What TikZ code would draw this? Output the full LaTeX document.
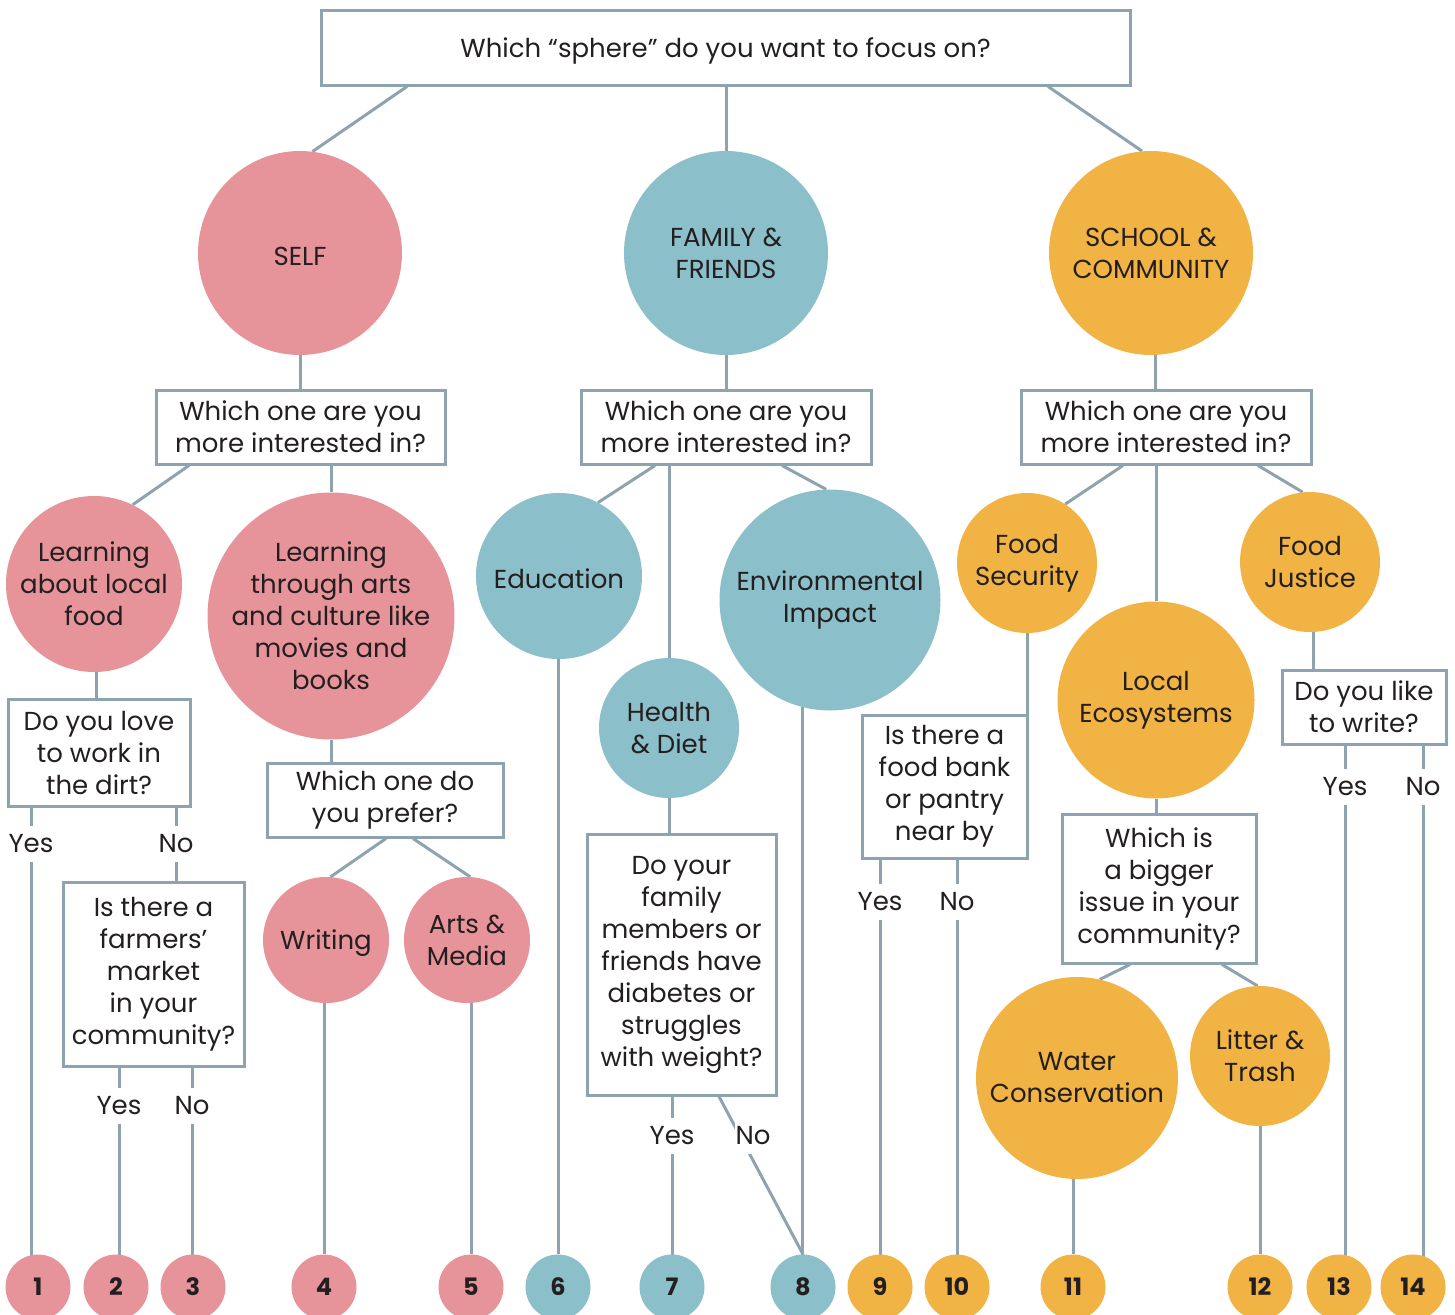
\documentclass[tikz,border=0pt]{standalone}
\usepackage{fontspec}
\setmainfont{Poppins}
\usetikzlibrary{calc,backgrounds}
\definecolor{pinkc}{HTML}{E7939A}
\definecolor{tealc}{HTML}{8BBFC9}
\definecolor{orangec}{HTML}{F1B343}
\definecolor{linec}{HTML}{8DA3B0}
\definecolor{txt}{HTML}{231F20}
\newcommand{\dnstrut}{\rule{0pt}{25pt}}
\begin{document}
\begin{tikzpicture}[x=1pt,y=-1pt,
  conn/.style={draw=linec, line width=3pt},
  qbox/.style={draw=linec, line width=3pt, fill=white, inner sep=0pt, align=center, text=txt, font=\fontsize{26}{32}\selectfont, execute at begin node=\dnstrut},
  sphere/.style={circle, fill=#1, inner sep=0pt, align=center, text=txt, font=\fontsize{26}{32}\selectfont, execute at begin node=\dnstrut},
  endc/.style={circle, fill=#1, minimum size=65pt, inner sep=0pt, text=txt, font=\fontsize{24}{24}\selectfont\bfseries},
  yn/.style={fill=white, inner xsep=1pt, inner ysep=9pt, text=txt, font=\fontsize{26}{26}\selectfont}
]
\useasboundingbox (0,0) rectangle (1455,1314);
\clip (0,0) rectangle (1455,1314);

% top
\node[qbox, minimum width=809pt, minimum height=74pt] (top) at (725.5,48) {Which “sphere” do you want to focus on?};
\node[sphere=pinkc, minimum size=204pt] (self) at (300,253) {SELF};
\node[sphere=tealc, minimum size=204pt] (fam) at (726,253) {FAMILY \&\\FRIENDS};
\node[sphere=orangec, minimum size=204pt] (school) at (1151,253) {SCHOOL \&\\COMMUNITY};

% level boxes
\node[qbox, minimum width=289pt, minimum height=74pt] (b1) at (300.5,427) {Which one are you\\more interested in?};
\node[qbox, minimum width=290pt, minimum height=74pt] (b2) at (726,427) {Which one are you\\more interested in?};
\node[qbox, minimum width=290pt, minimum height=74pt] (b3) at (1166,427) {Which one are you\\more interested in?};

% self branch
\node[sphere=pinkc, minimum size=176pt] (llf) at (94,584) {Learning\\about local\\food};
\node[sphere=pinkc, minimum size=242pt] (arts) at (331,616) {Learning\\through arts\\and culture like\\movies and\\books};
\node[qbox, minimum width=182pt, minimum height=107pt] (dirt) at (99,752.5) {Do you love\\to work in\\the dirt?};
\node[qbox, minimum width=181pt, minimum height=184pt] (farmers) at (153.5,974) {Is there a\\farmers’\\market\\in your\\community?};
\node[qbox, minimum width=236pt, minimum height=74pt] (prefer) at (385,800) {Which one do\\you prefer?};
\node[sphere=pinkc, minimum size=126pt] (writing) at (326,940) {Writing};
\node[sphere=pinkc, minimum size=126pt] (am) at (467,940) {Arts \&\\Media};

% family branch
\node[sphere=tealc, minimum size=166pt] (edu) at (559,576) {Education};
\node[sphere=tealc, minimum size=140pt] (health) at (669,728) {Health\\\& Diet};
\node[sphere=tealc, minimum size=221pt] (env) at (830,600) {Environmental\\Impact};
\node[qbox, minimum width=189pt, minimum height=261pt] (diab) at (681.5,964.5) {Do your\\family\\members or\\friends have\\diabetes or\\struggles\\with weight?};

% school branch
\node[sphere=orangec, minimum size=140pt] (fs) at (1027,563) {Food\\Security};
\node[sphere=orangec, minimum size=197pt] (le) at (1156,700) {Local\\Ecosystems};
\node[sphere=orangec, minimum size=140pt] (fj) at (1310,562) {Food\\Justice};
\node[qbox, minimum width=165pt, minimum height=143pt] (foodbank) at (944.5,786.5) {Is there a\\food bank\\or pantry\\near by};
\node[qbox, minimum width=194pt, minimum height=149pt] (bigger) at (1159,888.5) {Which is\\a bigger\\issue in your\\community?};
\node[sphere=orangec, minimum size=202pt] (water) at (1077,1078) {Water\\Conservation};
\node[sphere=orangec, minimum size=140pt] (litter) at (1260,1056) {Litter \&\\Trash};
\node[qbox, minimum width=164pt, minimum height=74pt] (write) at (1364,707) {Do you like\\to write?};

% end circles
\node[endc=pinkc] (c1) at (38,1287) {1};
\node[endc=pinkc] (c2) at (116,1287) {2};
\node[endc=pinkc] (c3) at (193,1287) {3};
\node[endc=pinkc] (c4) at (324,1287) {4};
\node[endc=pinkc] (c5) at (471,1287) {5};
\node[endc=tealc] (c6) at (558,1287) {6};
\node[endc=tealc] (c7) at (672,1287) {7};
\node[endc=tealc] (c8) at (803,1287) {8};
\node[endc=orangec] (c9) at (880,1287) {9};
\node[endc=orangec] (c10) at (957,1287) {10};
\node[endc=orangec] (c11) at (1073,1287) {11};
\node[endc=orangec] (c12) at (1260,1287) {12};
\node[endc=orangec] (c13) at (1339,1287) {13};
\node[endc=orangec] (c14) at (1413,1287) {14};

% yes / no labels
\node[yn] (yes1) at (31,844) {Yes};
\node[yn] (no1) at (176,844) {No};
\node[yn] (yes2) at (119,1106) {Yes};
\node[yn] (no2) at (192,1106) {No};
\node[yn] (yes3) at (672,1136) {Yes};
\node[yn] (no3) at (753,1136) {No};
\node[yn] (yes4) at (880,902) {Yes};
\node[yn] (no4) at (957,902) {No};
\node[yn] (yes5) at (1345,787) {Yes};
\node[yn] (no5) at (1423,787) {No};

\begin{scope}[on background layer]
\draw[conn] ([xshift=-318.5pt]top.south) -- (self.83);
\draw[conn] (fam |- top) -- (fam);
\draw[conn] ([xshift=322.5pt]top.south) -- (school.95);
\draw[conn] (self) -- (self |- b1);
\draw[conn] (fam) -- (fam |- b2);
\draw[conn] ([xshift=4pt]school.center) -- ([xshift=4pt]school.center |- b3.center);
% self
\draw[conn] ([xshift=-111.5pt]b1.south) -- (llf.64);
\draw[conn] (arts |- b1) -- (arts);
\draw[conn] ([xshift=2pt]llf.center) -- ([xshift=2pt]llf.center |- dirt.center);
\draw[conn] (yes1 |- dirt) -- (yes1 |- c1);
\draw[conn] (no1 |- dirt) -- (no1 |- farmers);
\draw[conn] (yes2 |- farmers) -- (yes2 |- c2);
\draw[conn] (no2 |- farmers) -- (no2 |- c3);
\draw[conn] (arts) -- (arts |- prefer);
\draw[conn] ([xshift=1pt]prefer.south) -- (writing.86);
\draw[conn] ([xshift=28pt]prefer.south) -- (am.87);
\draw[conn] (c4 |- writing) -- (c4);
\draw[conn] (c5 |- am) -- (c5);
% family
\draw[conn] ([xshift=-71pt]b2.south) -- (edu.62);
\draw[conn] (health |- b2) -- (health);
\draw[conn] ([xshift=56pt]b2.south) -- (env.92);
\draw[conn] (c6 |- edu) -- (c6);
\draw[conn] (health) -- (health |- diab);
\draw[conn] (yes3 |- diab) -- (yes3 |- c7);
\draw[conn] ([xshift=37.5pt]diab.south) -- (c8.north);
\draw[conn] ([xshift=-1pt]c8.center |- env.center) -- ([xshift=-1pt]c8.center);
% school
\draw[conn] ([xshift=-43pt]b3.south) -- (fs.57);
\draw[conn] (le |- b3) -- (le);
\draw[conn] ([xshift=92pt]b3.south) -- (fj.96);
\draw[conn] (fs) -- (fs |- foodbank.north);
\draw[conn] (yes4 |- foodbank) -- (yes4 |- c9);
\draw[conn] (no4 |- foodbank) -- (no4 |- c10);
\draw[conn] (le) -- (le |- bigger);
\draw[conn] ([xshift=-29pt]bigger.south) -- (water.77);
\draw[conn] ([xshift=63pt]bigger.south) -- (litter.92);
\draw[conn] (c11 |- water) -- (c11);
\draw[conn] (c12 |- litter) -- (c12);
\draw[conn] ([xshift=3pt]fj.center) -- ([xshift=3pt]fj.center |- write.center);
\draw[conn] (yes5 |- write) -- (yes5 |- c13);
\draw[conn] (no5 |- write) -- (no5 |- c14);
\end{scope}
\end{tikzpicture}
\end{document}
